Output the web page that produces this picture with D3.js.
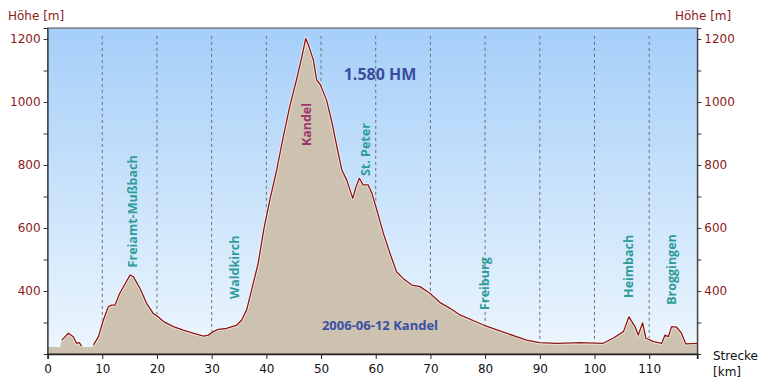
<!DOCTYPE html>
<html><head><meta charset="utf-8">
<script src="https://cdn.jsdelivr.net/npm/d3@7"></script>
<style>
body{margin:0;background:#fff;}
svg{display:block;}
</style></head>
<body>
<svg id="c" width="762" height="379"></svg>
<script>
// ---- data ----
const km = [0, 2.3, 2.6, 3.8, 4.7, 5.3, 5.8, 6.2, 6.4, 8.2, 8.4, 9.3, 10.2, 11.1, 11.7, 12.3, 13.2, 14.2, 15.1, 15.7,
  16.9, 18.1, 19.3, 20.2, 21.2, 23.0, 24.8, 26.6, 28.5, 29.4, 30.3, 31.2, 32.7, 34.6, 35.5, 36.4, 37.3, 38.5,
  39.6, 40.7, 41.9, 43.1, 44.3, 45.5, 46.5, 47.2, 47.8, 48.6, 49.2, 49.9, 51.0, 51.9, 52.9, 53.8, 54.7, 55.8,
  56.4, 57.0, 57.7, 58.6, 59.3, 60.2, 61.4, 62.6, 63.8, 65.0, 66.6, 68.1, 69.9, 71.7, 73.6, 75.4, 79.7, 83.9,
  87.6, 89.9, 93.1, 97.4, 101.6, 103.4, 105.3, 106.3, 107.4, 108.0, 108.8, 109.4, 110.8, 112.3, 112.9, 113.5,
  114.1, 115.0, 115.9, 116.7, 118.8];
const elev = [222, 222, 244, 266, 255, 234, 236, 225, 222, 222, 229, 255, 308, 350, 355, 355, 393, 424, 451, 445,
  408, 361, 329, 318, 303, 287, 276, 266, 257, 260, 271, 278, 281, 292, 308, 340, 403, 488,
  602, 694, 785, 890, 988, 1070, 1144, 1202, 1176, 1133, 1070, 1054, 1006, 943, 858, 784, 752, 694,
  731, 758, 737, 737, 710, 657, 583, 520, 461, 440, 419, 414, 393, 364, 345, 324, 292, 266,
  244, 236, 234, 236, 234, 250, 271, 318, 287, 260, 299, 250, 239, 234, 260, 255,
  287, 285, 266, 232, 234];
const xTicks = [0, 10, 20, 30, 40, 50, 60, 70, 80, 90, 100, 110];
const gridKm = [10, 20, 30, 40, 50, 60, 70, 80, 90, 100, 110];
const yTicks = [300, 400, 500, 600, 700, 800, 900, 1000, 1100, 1200];
const yLabels = [400, 600, 800, 1000, 1200];
const places = [
  {name: "Freiamt-Mußbach", km: 15.5, elev: 475, color: "#2f9c98"},
  {name: "Waldkirch", km: 34.2, elev: 375, color: "#2f9c98"},
  {name: "Kandel", km: 47.3, elev: 860, color: "#a3336b"},
  {name: "St. Peter", km: 58.2, elev: 765, color: "#2f9c98"},
  {name: "Freiburg", km: 79.8, elev: 340, color: "#2f9c98"},
  {name: "Heimbach", km: 106.3, elev: 378, color: "#2f9c98"},
  {name: "Broggingen", km: 114.0, elev: 356, color: "#2f9c98"}
];
const title1 = "1.580 HM";
const title2 = "2006-06-12 Kandel";

// ---- layout ----
const L = 47.6, R = 697.3, T = 28, B = 354;
const x = d3.scaleLinear().domain([0, 118.8]).range([L, R]);
const y = d3.scaleLinear().domain([200, 1235]).range([B, T]);
const svg = d3.select("#c");
const data = km.map((k, i) => ({km: k, elev: elev[i]}));

const defs = svg.append("defs");
const grad = defs.append("linearGradient").attr("id", "bg").attr("x1", 0).attr("y1", 0).attr("x2", 0).attr("y2", 1);
grad.append("stop").attr("offset", "0%").attr("stop-color", "#a5cff9");
grad.append("stop").attr("offset", "100%").attr("stop-color", "#edf6fd");

svg.append("rect").attr("x", L).attr("y", T).attr("width", R - L).attr("height", B - T).attr("fill", "url(#bg)");

// dashed grid
svg.append("g").selectAll("line").data(gridKm).join("line")
  .attr("x1", d => x(d)).attr("x2", d => x(d))
  .attr("y1", y(1210)).attr("y2", B)
  .attr("stroke", "#707070").attr("stroke-width", 1).attr("stroke-dasharray", "3,3");

// area
const area = d3.area().x(d => x(d.km)).y0(B).y1(d => y(d.elev));
svg.append("path").datum(data).attr("d", area).attr("fill", "#cdc1af");

// line with light halo
const line = d3.line().defined(d => d.elev > 223).x(d => x(d.km)).y(d => y(d.elev));
svg.append("path").datum(data).attr("d", line).attr("fill", "none")
  .attr("stroke", "#ffffff").attr("stroke-opacity", 0.7).attr("stroke-width", 3).attr("stroke-linejoin", "round");
svg.append("path").datum(data).attr("d", line).attr("fill", "none")
  .attr("stroke", "#8c1616").attr("stroke-width", 1.3).attr("stroke-linejoin", "round");

// frame
svg.append("rect").attr("x", L).attr("y", T).attr("width", R - L).attr("height", B - T)
  .attr("fill", "none").attr("stroke", "#4a4a4a").attr("stroke-width", 1);

// axes
const tickFont = "DejaVu Sans, sans-serif";
const yl = svg.append("g").attr("transform", `translate(${L},0)`)
  .call(d3.axisLeft(y).tickValues(yTicks).tickSize(4).tickPadding(3)
    .tickFormat(d => yLabels.includes(d) ? d : ""));
const yr = svg.append("g").attr("transform", `translate(${R},0)`)
  .call(d3.axisRight(y).tickValues(yTicks).tickSize(4).tickPadding(3)
    .tickFormat(d => yLabels.includes(d) ? d : ""));
[yl, yr].forEach(g => {
  g.select(".domain").attr("stroke", "#333");
  g.selectAll(".tick line").attr("stroke", "#333");
  g.selectAll("text").attr("fill", "#8b1a1a").style("font-family", tickFont).style("font-size", "12px");
});
const xa = svg.append("g").attr("transform", `translate(0,${B})`)
  .call(d3.axisBottom(x).tickValues(xTicks).tickSize(5).tickPadding(5).tickFormat(d3.format("d")));
xa.select(".domain").attr("stroke", "#222").attr("stroke-width", 1.5);
xa.selectAll(".tick line").attr("stroke", "#222");
xa.selectAll("text").attr("fill", "#111").style("font-family", tickFont).style("font-size", "12px");
// end tick at right edge
svg.append("line").attr("x1", R).attr("x2", R).attr("y1", B).attr("y2", B + 5).attr("stroke", "#222");

// axis titles
svg.append("text").attr("x", 8).attr("y", 20).text("Höhe [m]")
  .attr("fill", "#8b1a1a").style("font-family", tickFont).style("font-size", "12px");
svg.append("text").attr("x", 675).attr("y", 20).text("Höhe [m]")
  .attr("fill", "#8b1a1a").style("font-family", tickFont).style("font-size", "12px");
svg.append("text").attr("x", 713).attr("y", 360).text("Strecke")
  .attr("fill", "#111").style("font-family", tickFont).style("font-size", "12px");
svg.append("text").attr("x", 713).attr("y", 376).text("[km]")
  .attr("fill", "#111").style("font-family", tickFont).style("font-size", "12px");

// place labels (rotated)
const lblFont = "'Open Sans', sans-serif";
svg.append("g").selectAll("text").data(places).join("text")
  .attr("transform", d => `translate(${x(d.km) + 4.5},${y(d.elev)}) rotate(-90)`)
  .attr("text-anchor", "start")
  .attr("fill", d => d.color)
  .style("font-family", lblFont).style("font-weight", 700).style("font-size", "12.5px")
  .text(d => d.name);

svg.append("text").attr("x", 380).attr("y", 80).attr("text-anchor", "middle").text(title1)
  .attr("fill", "#3a4c9c").style("font-family", lblFont).style("font-weight", 700).style("font-size", "16px");
svg.append("text").attr("x", 380).attr("y", 330).attr("text-anchor", "middle").text(title2)
  .attr("fill", "#3a50a6").style("font-family", lblFont).style("font-weight", 700).style("font-size", "13px");
</script>
</body></html>
